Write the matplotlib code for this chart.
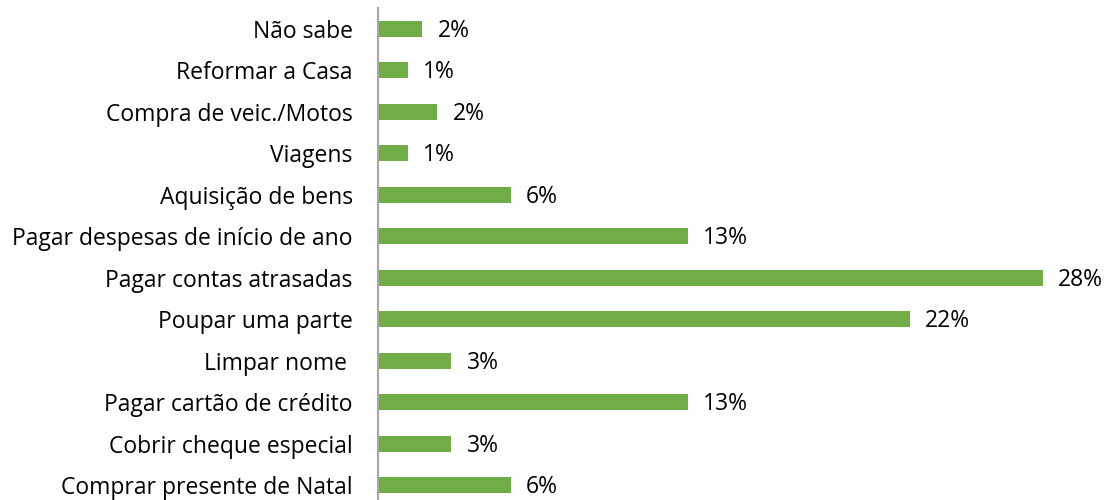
import matplotlib.pyplot as plt

categories = [
    "Não sabe",
    "Reformar a Casa",
    "Compra de veic./Motos",
    "Viagens",
    "Aquisição de bens",
    "Pagar despesas de início de ano",
    "Pagar contas atrasadas",
    "Poupar uma parte",
    "Limpar nome ",
    "Pagar cartão de crédito",
    "Cobrir cheque especial",
    "Comprar presente de Natal",
]
values = [1.88, 1.26, 2.5, 1.26, 5.6, 13.05, 28.0, 22.4, 3.1, 13.05, 3.1, 5.6]
labels = ["2%", "1%", "2%", "1%", "6%", "13%", "28%", "22%", "3%", "13%", "3%", "6%"]

plt.rcParams['font.family'] = ['Open Sans', 'DejaVu Sans']

fig = plt.figure(figsize=(11.1, 5), dpi=100)
ax = fig.add_axes([0.3403, -0.012, 0.642, 0.996])

y = list(range(len(categories)))
ax.barh(y, values, height=0.385, color='#70AD47')

for yi, v, lab in zip(y, values, labels):
    ax.text(v + 0.65, yi + 0.05, lab, va='center', ha='left', fontsize=16.5, color='black')

ax.set_xlim(0, 30)
ax.set_ylim(len(categories) - 0.5, -0.5)
ax.set_yticks(y)
ax.set_yticklabels(categories, fontsize=16.5)
ax.tick_params(axis='y', length=0, pad=18)
ax.set_xticks([])

for side in ['top', 'right', 'bottom']:
    ax.spines[side].set_visible(False)
ax.spines['left'].set_color('#A6A6A6')
ax.spines['left'].set_linewidth(1.5)

fig.savefig('out.png', dpi=100)
